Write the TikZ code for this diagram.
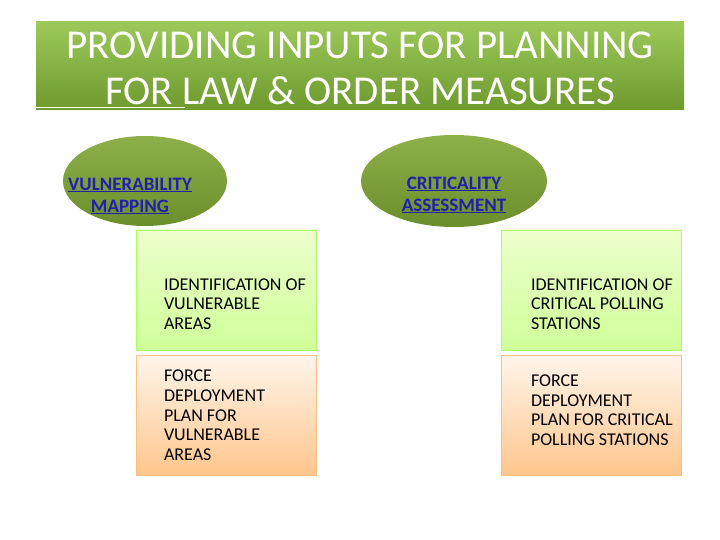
\documentclass[tikz,border=0pt]{standalone}
\usepackage{fontspec}
\setmainfont{Carlito}
\usetikzlibrary{shapes,positioning,calc}
\definecolor{bannerA}{HTML}{9CC95A}
\definecolor{bannerB}{HTML}{6E9A2E}
\definecolor{ovalA}{HTML}{8DB04A}
\definecolor{ovalB}{HTML}{6B8E2C}
\definecolor{linkblue}{HTML}{1F1FB0}
\tikzset{
  oval/.style={ellipse, inner sep=0pt, top color=ovalA, bottom color=ovalB, draw=none},
  greenbox/.style={rectangle, minimum width=180pt, minimum height=120pt, draw=green!40!lime!60, top color=green!15!lime!20, bottom color=green!30!lime!40},
  peachbox/.style={rectangle, minimum width=180pt, minimum height=120pt, draw=orange!50, top color=orange!8, bottom color=orange!45},
  boxtext/.style={font=\fontsize{18}{19.6}\selectfont, align=flush left, text width=170pt},
  ovaltext/.style={font=\fontsize{19}{22}\selectfont\bfseries, text=linkblue, align=center}
}
\begin{document}
\begin{tikzpicture}[x=1pt,y=-1pt]
    \useasboundingbox (0,0) rectangle (720,540);

    % Title banner
    \shade[top color=bannerA, bottom color=bannerB] (36,22) rectangle (684,110);
    \node[font=\fontsize{41}{46}\selectfont, text=white, align=center] (title) at (360,68)
        {PROVIDING INPUTS FOR PLANNING\\FOR LAW \& ORDER MEASURES};
    \draw[white, line width=1pt] (36,108) -- (185,108);

    % Boxes
    \node[greenbox] (vulnareas) at (226,290) {};
    \node[peachbox, below=5pt of vulnareas] (vulnplan) {};
    \node[greenbox] (critstations) at (591,290) {};
    \node[peachbox, below=5pt of critstations] (critplan) {};

    % Box texts
    \node[boxtext, anchor=west, inner sep=0pt] at ($(vulnareas.west)+(28,14)$) {IDENTIFICATION OF\\VULNERABLE\\AREAS};
    \node[boxtext, anchor=west, inner sep=0pt] at ($(vulnplan.west)+(28,0)$) {FORCE\\DEPLOYMENT\\PLAN FOR\\VULNERABLE\\AREAS};
    \node[boxtext, anchor=west, inner sep=0pt] at ($(critstations.west)+(30,14)$) {IDENTIFICATION OF\\CRITICAL POLLING\\STATIONS};
    \node[boxtext, anchor=west, inner sep=0pt] at ($(critplan.west)+(30,-5)$) {FORCE\\DEPLOYMENT\\PLAN FOR CRITICAL\\POLLING STATIONS};

    % Ovals
    \node[oval, minimum width=164pt, minimum height=90pt] (vulnmap) at (145,181) {};
    \node[ovaltext] at ($(vulnmap)+(-15,15)$) {\underline{VULNERABILITY}\\\underline{MAPPING}};
    \node[oval, minimum width=186pt, minimum height=92pt] (critassess) at (454,181) {};
    \node[ovaltext] at ($(critassess)+(0,14)$) {\underline{CRITICALITY}\\\underline{ASSESSMENT}};
\end{tikzpicture}
\end{document}
